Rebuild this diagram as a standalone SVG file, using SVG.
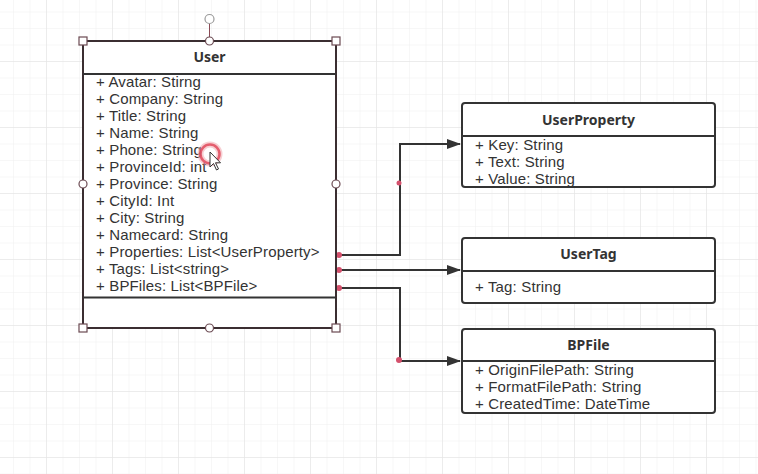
<svg xmlns="http://www.w3.org/2000/svg" width="758" height="474" viewBox="0 0 758 474">
<defs>
<pattern id="minor" x="13" y="11.5" width="16.5" height="16.5" patternUnits="userSpaceOnUse">
<path d="M0 0H16.5M0 0V16.5" fill="none" stroke="#efefef" stroke-width="1"/>
</pattern>
<pattern id="major" x="46" y="61" width="66" height="66" patternUnits="userSpaceOnUse">
<path d="M0 0H66M0 0V66" fill="none" stroke="#e2e2e2" stroke-width="1"/>
</pattern>
<marker id="arr" markerWidth="14" markerHeight="12" refX="13" refY="6" orient="auto" markerUnits="userSpaceOnUse">
<path d="M0 1L14 6L0 11Z" fill="#333"/>
</marker>
</defs>
<style>
.box{fill:#fff;stroke:#333;stroke-width:2}
.sel{fill:#fff;stroke:#3b2e31;stroke-width:2}
.div{stroke:#333;stroke-width:2}
.t{font-family:"Liberation Sans",Arial,sans-serif;font-size:15px;letter-spacing:0.15px;fill:#333}
.h{font-family:"Noto Sans","Open Sans",sans-serif;font-size:14px;font-weight:bold;fill:#333;text-anchor:middle}
.ln{fill:none;stroke:#333;stroke-width:2}
.dot{fill:#d4506c}
.hs{fill:#fff;stroke:#6b4a52;stroke-width:1.2}
</style>
<rect width="758" height="474" fill="#fff"/>
<rect width="758" height="474" fill="url(#minor)"/>
<rect width="758" height="474" fill="url(#major)"/>

<g id="connectors">
<polyline class="ln" points="337,255 400,255 400,144 460,144" marker-end="url(#arr)"/>
<polyline class="ln" points="337,270 460,270" marker-end="url(#arr)"/>
<polyline class="ln" points="337,288 400,288 400,361 460,361" marker-end="url(#arr)"/>
<circle class="dot" cx="339" cy="255" r="3"/>
<circle class="dot" cx="339" cy="270" r="3"/>
<circle class="dot" cx="339" cy="288" r="3"/>
<circle class="dot" cx="399" cy="183" r="2.5"/>
<circle class="dot" cx="399" cy="360" r="3"/>
</g>

<g id="User">
<rect class="sel" x="83" y="41" width="253" height="287"/>
<line class="div" x1="83" y1="74" x2="336" y2="74"/>
<line class="div" x1="83" y1="297.5" x2="336" y2="297.5"/>
<text class="h" x="209.5" y="62">User</text>
<text class="t" x="96">
<tspan x="96" y="87">+ Avatar: Stirng</tspan>
<tspan x="96" y="104">+ Company: String</tspan>
<tspan x="96" y="121">+ Title: String</tspan>
<tspan x="96" y="138">+ Name: String</tspan>
<tspan x="96" y="155">+ Phone: String</tspan>
<tspan x="96" y="172">+ ProvinceId: int</tspan>
<tspan x="96" y="189">+ Province: String</tspan>
<tspan x="96" y="206">+ CityId: Int</tspan>
<tspan x="96" y="223">+ City: String</tspan>
<tspan x="96" y="240">+ Namecard: String</tspan>
<tspan x="96" y="257">+ Properties: List&lt;UserProperty&gt;</tspan>
<tspan x="96" y="274">+ Tags: List&lt;string&gt;</tspan>
<tspan x="96" y="291">+ BPFiles: List&lt;BPFile&gt;</tspan>
</text>
<line x1="209.5" y1="24" x2="209.5" y2="37" stroke="#8a4a55" stroke-width="1"/>
<circle class="hs" cx="209.5" cy="19" r="4.5" style="stroke:#999"/>
<rect class="hs" x="79" y="37" width="8" height="8"/>
<rect class="hs" x="332" y="37" width="8" height="8"/>
<rect class="hs" x="79" y="324" width="8" height="8"/>
<rect class="hs" x="332" y="324" width="8" height="8"/>
<circle class="hs" cx="209.5" cy="41" r="4"/>
<circle class="hs" cx="209.5" cy="328" r="4"/>
<circle class="hs" cx="83" cy="184" r="4"/>
<circle class="hs" cx="336" cy="184" r="4"/>
</g>

<g id="UserProperty">
<rect class="box" x="462" y="103" width="253" height="84" rx="3"/>
<line class="div" x1="462" y1="136" x2="715" y2="136"/>
<text class="h" x="588.5" y="125">UserProperty</text>
<text class="t" x="475" y="150">+ Key: String</text>
<text class="t" x="475" y="167">+ Text: String</text>
<text class="t" x="475" y="184">+ Value: String</text>
</g>

<g id="UserTag">
<rect class="box" x="462" y="238" width="253" height="65" rx="3"/>
<line class="div" x1="462" y1="271" x2="715" y2="271"/>
<text class="h" x="588.5" y="259">UserTag</text>
<text class="t" x="475" y="292">+ Tag: String</text>
</g>

<g id="BPFile">
<rect class="box" x="462" y="329" width="253" height="84" rx="3"/>
<line class="div" x1="462" y1="361" x2="715" y2="361"/>
<text class="h" x="588.5" y="350">BPFile</text>
<text class="t" x="475" y="375">+ OriginFilePath: String</text>
<text class="t" x="475" y="392">+ FormatFilePath: String</text>
<text class="t" x="475" y="409">+ CreatedTime: DateTime</text>
</g>

<g id="cursor">
<circle cx="210" cy="154" r="9.5" fill="none" stroke="#f0a0a8" stroke-width="6" opacity="0.5"/>
<circle cx="210" cy="154" r="9.5" fill="none" stroke="#e04a5c" stroke-width="2.5" opacity="0.85"/>
<path d="M210 152L210 167L213.5 163.5L216.5 170L218.5 169L215.5 162.8L220.5 162.8Z" fill="#fff" stroke="#333" stroke-width="1"/>
</g>
</svg>
